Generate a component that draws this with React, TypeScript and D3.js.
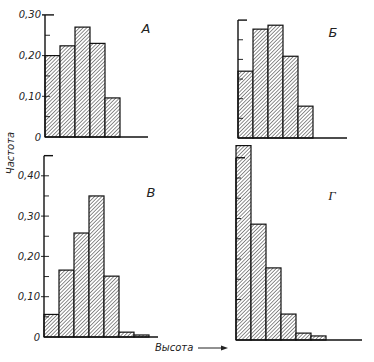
import React from 'react';
import * as d3 from 'd3';

// bin frequencies
const freqA = [0.2, 0.224, 0.27, 0.23, 0.096];
const freqB = [0.17, 0.277, 0.287, 0.208, 0.081];
const freqV = [0.056, 0.166, 0.258, 0.35, 0.151, 0.012, 0.005];
const freqG = [0.48, 0.286, 0.178, 0.064, 0.017, 0.01];

const labelsA = ['0', '0,10', '0,20', '0,30'];
const labelsV = ['0', '0,10', '0,20', '0,30', '0,40'];
const panelNames = ['А', 'Б', 'В', 'Г'];

const font = '"DejaVu Sans", sans-serif';

type PanelProps = {
  data: number[];
  x0: number;
  y0: number;
  pxPerTenth: number;
  axisTop: number;
  axisEnd: number;
  tickLabels?: string[];
  name: string;
  nameX: number;
  nameY: number;
  nameFont?: string;
};

const Panel = ({ data, x0, y0, pxPerTenth, axisTop, axisEnd, tickLabels, name, nameX, nameY, nameFont }: PanelProps) => {
  const y = d3.scaleLinear().domain([0, 0.1]).range([y0, y0 - pxPerTenth]);
  const x = d3.scaleLinear().domain([0, 1]).range([x0, x0 + 15]);
  const ticks = d3.range(0.05, axisTop + 0.001, 0.05);

  return (
    <g>
      {data.map((d, i) => (
        <rect
          key={i}
          x={x(i)}
          y={y(d)}
          width={x(i + 1) - x(i)}
          height={y0 - y(d)}
          fill="url(#hatch)"
          stroke="#111"
          strokeWidth={1.2}
        />
      ))}
      {/* y axis */}
      <line x1={x0} x2={x0} y1={y0} y2={y(axisTop)} stroke="#111" strokeWidth={1.4} />
      {ticks.map((t, i) => {
        const major = Math.abs((t * 100) % 10) < 0.01 || Math.abs((t * 100) % 10 - 10) < 0.01;
        const isTop = i === ticks.length - 1;
        return (
          <line
            key={i}
            x1={major && tickLabels ? x0 - 3 : x0}
            x2={x0 + (isTop ? 9 : 5)}
            y1={y(t)}
            y2={y(t)}
            stroke="#111"
            strokeWidth={isTop ? 1.4 : 0.9}
          />
        );
      })}
      {tickLabels &&
        tickLabels.map((l, i) => (
          <text
            key={l}
            x={x0 - 4}
            y={y(i * 0.1) + 3.5}
            textAnchor="end"
            fontFamily={font}
            fontStyle="italic"
            fontSize={10}
            fill="#222"
          >
            {l}
          </text>
        ))}
      {/* base line */}
      <line x1={x0} x2={axisEnd} y1={y0} y2={y0} stroke="#111" strokeWidth={1.4} />
      <text
        x={nameX}
        y={nameY}
        textAnchor="middle"
        fontFamily={nameFont || font}
        fontStyle="italic"
        fontSize={13}
        fill="#222"
      >
        {name}
      </text>
    </g>
  );
};

const App = () => {
  return (
    <svg width={374} height={362} style={{ position: 'absolute', left: 0, top: 0, background: '#fff' }}>
      <defs>
        <pattern id="hatch" width={2.6} height={2.6} patternUnits="userSpaceOnUse" patternTransform="rotate(45)">
          <rect width={2.6} height={2.6} fill="#fff" />
          <line x1={0} y1={0} x2={0} y2={2.6} stroke="#444" strokeWidth={1.2} />
        </pattern>
      </defs>
      <Panel data={freqA} x0={45} y0={137} pxPerTenth={40.7} axisTop={0.3} axisEnd={148}
        tickLabels={labelsA} name={panelNames[0]} nameX={146} nameY={33} />
      <Panel data={freqB} x0={238} y0={138} pxPerTenth={39.3} axisTop={0.3} axisEnd={347}
        name={panelNames[1]} nameX={333} nameY={37} />
      <Panel data={freqV} x0={44} y0={337} pxPerTenth={40.3} axisTop={0.45} axisEnd={158}
        tickLabels={labelsV} name={panelNames[2]} nameX={151} nameY={197} />
      <Panel data={freqG} x0={236} y0={340} pxPerTenth={40.5} axisTop={0.45} axisEnd={362}
        name={panelNames[3]} nameX={332} nameY={200} nameFont='"Liberation Serif", serif' />
      <text
        transform="translate(14,153) rotate(-90)"
        textAnchor="middle"
        fontFamily={font}
        fontStyle="italic"
        fontSize={10}
        fill="#222"
      >
        Частота
      </text>
      <text x={155} y={351} fontFamily={font} fontStyle="italic" fontSize={10} fill="#222">
        Высота
      </text>
      <line x1={198} x2={224} y1={348} y2={348} stroke="#222" strokeWidth={1} />
      <path d="M228,348 L221,345.5 L221,350.5 Z" fill="#222" />
    </svg>
  );
};

export default App;
